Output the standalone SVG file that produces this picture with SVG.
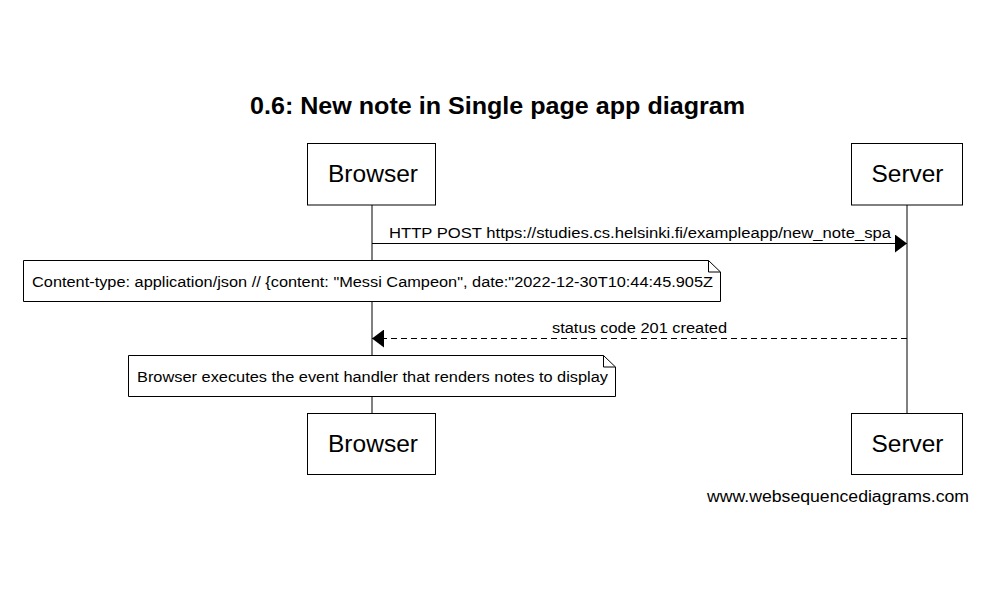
<svg xmlns="http://www.w3.org/2000/svg" width="994" height="599" viewBox="0 0 994 599">
<style>
text{font-family:"Liberation Sans",Arial,sans-serif;fill:#000}
.box{fill:#fff;stroke:#000;stroke-width:1}
.life{stroke:#000;stroke-width:1;fill:none}
.msg{stroke:#000;stroke-width:1;fill:none}
.dash{stroke-dasharray:6,4}
.part{font-size:23px}
.lbl{font-size:14px}
</style>
<defs>
<marker id="ah" viewBox="0 0 12 18" refX="12" refY="9" markerWidth="12" markerHeight="18" markerUnits="userSpaceOnUse" orient="auto">
<path d="M0,0 L12,9 L0,18 Z" fill="#000"/>
</marker>
</defs>
<rect width="994" height="599" fill="#fff"/>
<text x="250" y="114" font-size="23" font-weight="bold" textLength="495" lengthAdjust="spacingAndGlyphs">0.6: New note in Single page app diagram</text>
<g id="lifelines">
<line class="life" x1="372" y1="205" x2="372" y2="413"/>
<line class="life" x1="907" y1="205" x2="907" y2="413"/>
</g>
<g id="browser-top"><rect class="box" x="307.5" y="143.5" width="128" height="61.5"/><text class="part" x="328" y="182" textLength="90" lengthAdjust="spacingAndGlyphs">Browser</text></g>
<g id="server-top"><rect class="box" x="851.5" y="143.5" width="111" height="61.5"/><text class="part" x="871.5" y="182" textLength="72" lengthAdjust="spacingAndGlyphs">Server</text></g>
<g id="browser-bottom"><rect class="box" x="307.5" y="413.5" width="128" height="61"/><text class="part" x="328" y="452" textLength="90" lengthAdjust="spacingAndGlyphs">Browser</text></g>
<g id="server-bottom"><rect class="box" x="851.5" y="413.5" width="111" height="61"/><text class="part" x="871.5" y="452" textLength="72" lengthAdjust="spacingAndGlyphs">Server</text></g>
<g id="connectors">
<line class="msg" x1="372" y1="243.5" x2="907" y2="243.5" marker-end="url(#ah)"/>
<text class="lbl" x="389" y="238" textLength="502" lengthAdjust="spacingAndGlyphs">HTTP POST https://studies.cs.helsinki.fi/exampleapp/new_note_spa</text>
<line class="msg dash" x1="907" y1="338.5" x2="372" y2="338.5" marker-end="url(#ah)"/>
<text class="lbl" x="552" y="333" textLength="175" lengthAdjust="spacingAndGlyphs">status code 201 created</text>
</g>
<g id="note1">
<path class="box" d="M23.5,260.5 H708.5 L720.5,272 V301.5 H23.5 Z"/>
<path class="msg" d="M708.5,260.5 V272 H720.5"/>
<text class="lbl" x="32" y="287" textLength="681" lengthAdjust="spacingAndGlyphs">Content-type: application/json // {content: "Messi Campeon", date:"2022-12-30T10:44:45.905Z</text>
</g>
<g id="note2">
<path class="box" d="M128.5,355.5 H603.5 L615.5,367 V396.5 H128.5 Z"/>
<path class="msg" d="M603.5,355.5 V367 H615.5"/>
<text class="lbl" x="137" y="382" textLength="471" lengthAdjust="spacingAndGlyphs">Browser executes the event handler that renders notes to display</text>
</g>
<text x="707" y="502" font-size="16" textLength="262" lengthAdjust="spacingAndGlyphs">www.websequencediagrams.com</text>
</svg>
